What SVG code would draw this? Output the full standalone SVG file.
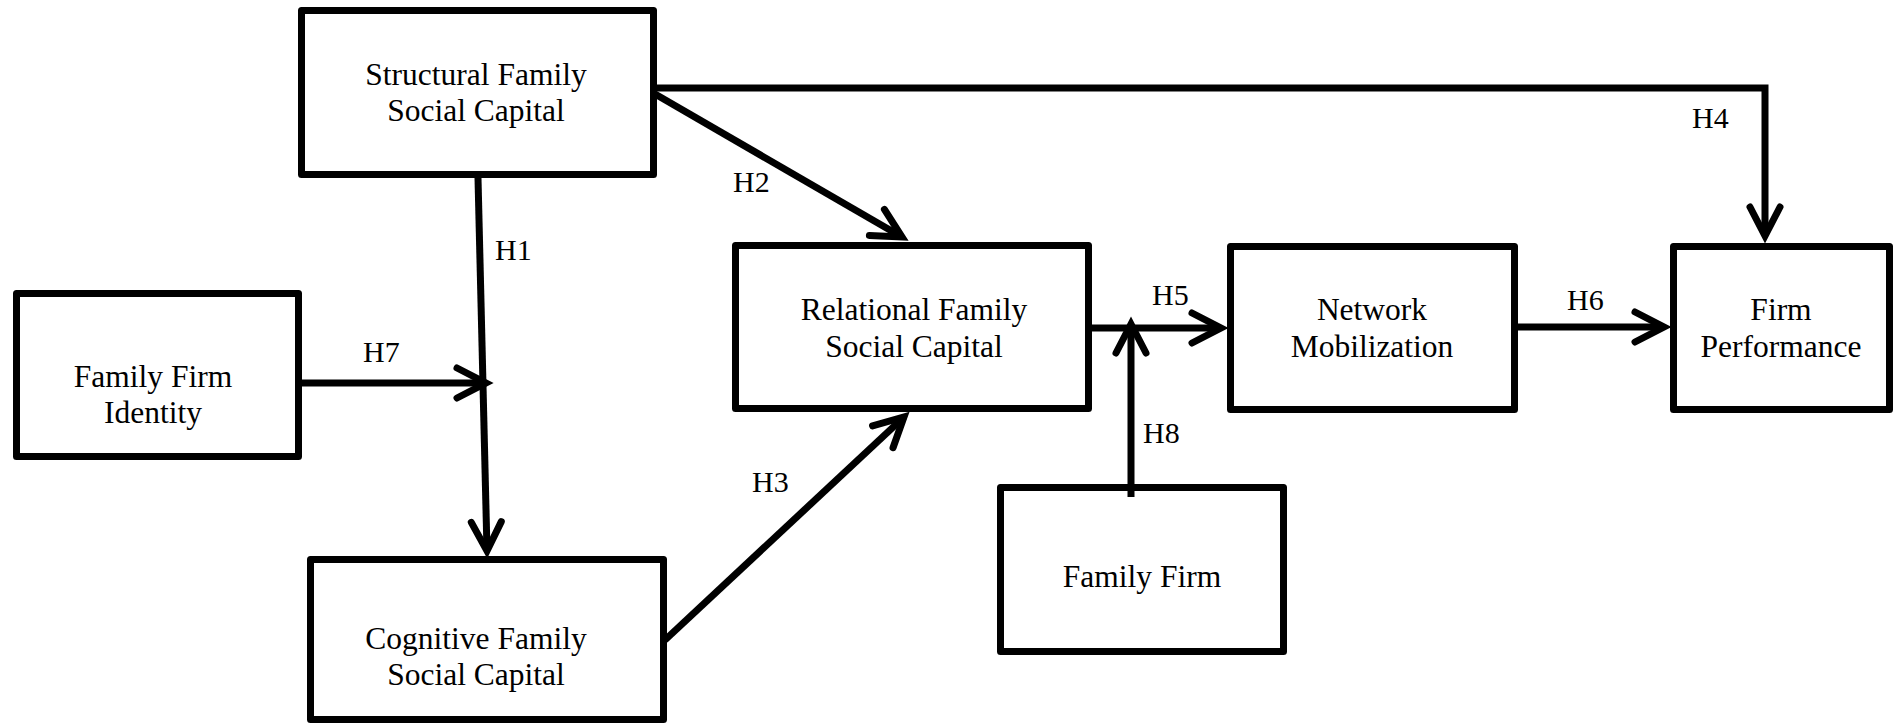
<svg xmlns="http://www.w3.org/2000/svg" width="1902" height="726" viewBox="0 0 1902 726">
<style>
.box{fill:#fff;stroke:#000;stroke-width:7;stroke-linejoin:round}
.t{font-family:"Liberation Serif","Times New Roman",serif;font-size:31.5px;fill:#000;text-anchor:middle}
.lbl{font-family:"Liberation Serif","Times New Roman",serif;font-size:30px;fill:#000}
.c{fill:none;stroke:#000;stroke-width:7;marker-end:url(#arr)}
</style>
<defs>
<marker id="arr" markerUnits="userSpaceOnUse" viewBox="-40 -22 52 44" markerWidth="52" markerHeight="44" refX="0" refY="0" orient="auto">
<path d="M-29,-15 L0,0 L-29,15" fill="none" stroke="#000" stroke-width="7" stroke-linecap="round" stroke-linejoin="miter"/>
</marker>
</defs>
<rect width="1902" height="726" fill="#fff"/>
<g id="connectors">
<path class="c" d="M478,178 L487,551"/>
<path class="c" d="M302,383 L486,383"/>
<path class="c" d="M655,94 L902,237"/>
<path class="c" d="M655,88 H1765 V236"/>
<path class="c" d="M665,640 L904,417"/>
<path class="c" d="M1092,328 L1221,328"/>
<path class="c" d="M1131,497 L1131,324"/>
<path class="c" d="M1518,327 L1664,327"/>
<text class="lbl" x="495" y="260">H1</text>
<text class="lbl" x="733" y="192">H2</text>
<text class="lbl" x="752" y="492">H3</text>
<text class="lbl" x="1692" y="128">H4</text>
<text class="lbl" x="1152" y="305">H5</text>
<text class="lbl" x="1567" y="310">H6</text>
<text class="lbl" x="363" y="362">H7</text>
<text class="lbl" x="1143" y="443">H8</text>
</g>
<g id="structural">
<rect class="box" x="301.5" y="10.5" width="352" height="164"/>
<text class="t" x="476" y="85">Structural Family</text>
<text class="t" x="476" y="121">Social Capital</text>
</g>
<g id="identity">
<rect class="box" x="16.5" y="293.5" width="282" height="163"/>
<text class="t" x="153" y="387">Family Firm</text>
<text class="t" x="153" y="423">Identity</text>
</g>
<g id="cognitive">
<rect class="box" x="310.5" y="559.5" width="353" height="160"/>
<text class="t" x="476" y="649">Cognitive Family</text>
<text class="t" x="476" y="685">Social Capital</text>
</g>
<g id="relational">
<rect class="box" x="735.5" y="245.5" width="353" height="163"/>
<text class="t" x="914" y="320">Relational Family</text>
<text class="t" x="914" y="357">Social Capital</text>
</g>
<g id="network">
<rect class="box" x="1230.5" y="246.5" width="284" height="163"/>
<text class="t" x="1372" y="320">Network</text>
<text class="t" x="1372" y="357">Mobilization</text>
</g>
<g id="performance">
<rect class="box" x="1673.5" y="246.5" width="216" height="163"/>
<text class="t" x="1781" y="320">Firm</text>
<text class="t" x="1781" y="357">Performance</text>
</g>
<g id="familyfirm">
<rect class="box" x="1000.5" y="487.5" width="283" height="164"/>
<text class="t" x="1142" y="587">Family Firm</text>
</g>
<path d="M1131,487 V497" stroke="#000" stroke-width="7"/>
</svg>
